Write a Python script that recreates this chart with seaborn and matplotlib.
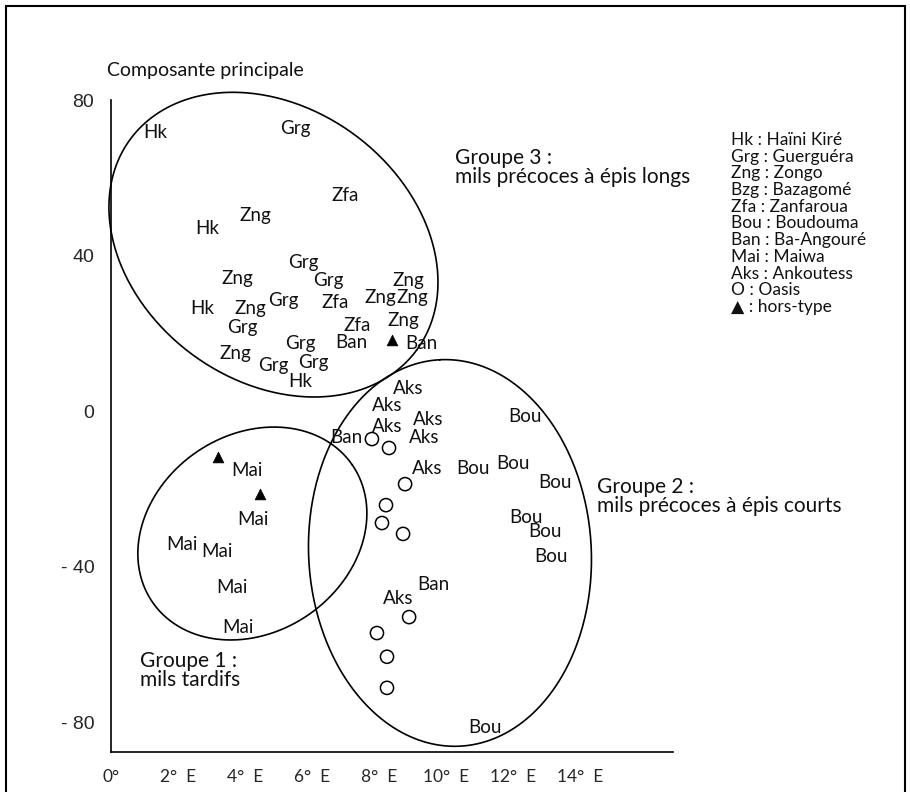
"""
Mils du Niger -- groupes de populations sur la composante principale
"""
import numpy as np
import pandas as pd
import matplotlib
matplotlib.use("Agg")
import matplotlib.pyplot as plt
import seaborn as sns
from matplotlib.patches import Rectangle


# ================================================================================
# Data
# ================================================================================
# Population codes (text marks) with longitude (deg E) and principal component
codes = [
    "Hk", "Grg", "Zfa", "Zng", "Hk", "Grg", "Zng", "Grg", "Zng", "Hk",
    "Zng", "Grg", "Zfa", "Zng", "Zng", "Grg", "Zfa", "Zng", "Zng", "Grg",
    "Ban", "Ban", "Grg", "Grg", "Hk",
    "Aks", "Aks", "Aks", "Aks", "Aks", "Ban", "Aks", "Bou", "Bou", "Bou",
    "Bou", "Bou", "Bou", "Bou", "Ban", "Aks", "Bou",
    "Mai", "Mai", "Mai", "Mai", "Mai", "Mai",
]
code_x = [
    1.31, 5.49, 6.99, 4.30, 2.87, 5.73, 3.76, 6.48, 8.87, 2.72,
    4.15, 5.13, 6.69, 8.03, 9.01, 3.91, 7.34, 8.72, 3.70, 5.64,
    7.19, 9.28, 6.03, 4.84, 5.64,
    8.87, 8.24, 9.46, 8.24, 9.34, 7.04, 9.43, 10.81, 12.00, 12.36,
    13.25, 12.39, 12.96, 13.13, 9.61, 8.57, 11.16,
    4.06, 4.24, 2.12, 3.16, 3.61, 3.79,
]
code_y = [
    71.7, 72.7, 55.5, 50.4, 47.0, 38.3, 34.2, 33.7, 33.7, 26.5,
    26.5, 28.5, 28.0, 29.3, 29.3, 21.6, 22.1, 23.4, 14.9, 17.5,
    17.7, 17.5, 12.6, 11.8, 7.5,
    5.7, 1.3, -2.1, -3.9, -6.9, -6.7, -14.7, -14.9, -13.4, -1.5,
    -18.5, -27.5, -31.1, -37.5, -44.5, -48.3, -81.5,
    -15.2, -27.8, -34.4, -36.2, -45.5, -55.8,
]

# Oasis populations (open circles)
oasis_x = [7.79, 8.30, 8.78, 8.21, 8.09, 8.72, 8.90, 7.94, 8.24, 8.24]
oasis_y = [-7.2, -9.5, -18.8, -24.2, -28.8, -31.6, -53.0, -57.1, -63.2, -71.2]

# Off-type populations (filled triangles)
offtype_x = [3.19, 4.45, 8.39]
offtype_y = [-11.8, -21.3, 18.3]

# Groups: ellipse centre, semi-axes (in degrees of longitude) and tilt
group_labels = ["Groupe 1 :\nmils tardifs",
                "Groupe 2 :\nmils précoces à épis courts",
                "Groupe 3 :\nmils précoces à épis longs"]
group_cx     = [4.22, 10.12, 4.85]
group_cy     = [-31.5, -36.5, 42.8]
group_a      = [3.62, 5.78, 5.31]
group_b      = [2.95, 4.22, 4.08]
group_angle  = [34.5, 93.0, -36.4]
group_lab_x  = [0.87, 14.50, 10.27]
group_lab_y  = [-66.8, -21.9, 62.7]

# Axis ticks
x_ticks       = [0, 2, 4, 6, 8, 10, 12, 14]
x_tick_labels = ["0°", "2°  E", "4°  E", "6°  E", "8°  E", "10°  E", "12°  E", "14°  E"]
y_ticks       = [80, 40, 0, -40, -80]
y_tick_labels = ["80", "40", "0", "- 40", "- 80"]

legend_lines = [
    "Hk : Haïni Kiré", "Grg : Guerguéra", "Zng : Zongo", "Bzg : Bazagomé",
    "Zfa : Zanfaroua", "Bou : Boudouma", "Ban : Ba-Angouré", "Mai : Maiwa",
    "Aks : Ankoutess", "O : Oasis", "▲ : hors-type",
]

# y units per degree of longitude on screen (keeps ellipses round-ish)
ASPECT = 8.61


# ================================================================================
# Figure
# ================================================================================
sns.set_style("white")
plt.rcParams["font.family"] = ["Lato", "DejaVu Sans"]

fig = plt.figure(figsize=(9.10, 7.92), dpi=100)
ax  = fig.add_axes([0.1220, 0.0505, 0.6176, 0.8232])

# Open circles and triangles
oasis_df   = pd.DataFrame({"x": oasis_x,   "y": oasis_y})
offtype_df = pd.DataFrame({"x": offtype_x, "y": offtype_y})
sns.scatterplot(data=oasis_df, x="x", y="y", ax=ax, marker="o", s=90,
                facecolor="none", edgecolor="black", linewidth=1.1, clip_on=False)
sns.scatterplot(data=offtype_df, x="x", y="y", ax=ax, marker="^", s=60,
                color="black", edgecolor="black", linewidth=0.5, clip_on=False)

# Population codes as text marks
for c, x, y in zip(codes, code_x, code_y):
    ax.text(x, y, c, ha="center", va="center", fontsize=13.5, color="#111111")

# Group ellipses
t = np.linspace(0, 2 * np.pi, 400)
for cx, cy, a, b, ang in zip(group_cx, group_cy, group_a, group_b, group_angle):
    th = np.deg2rad(ang)
    u, v = a * np.cos(t), b * np.sin(t)
    ex = cx + u * np.cos(th) - v * np.sin(th)
    ey = cy + (u * np.sin(th) + v * np.cos(th)) * ASPECT
    ax.plot(ex, ey, color="black", lw=1.2, clip_on=False)

for lab, x, y in zip(group_labels, group_lab_x, group_lab_y):
    ax.text(x, y, lab, ha="left", va="center", fontsize=15,
            linespacing=0.95, color="#111111")

# Axes styling
ax.set_xlim(0, 16.78)
ax.set_ylim(-87.7, 80)
sns.despine(ax=ax)
for side in ["left", "bottom"]:
    ax.spines[side].set_linewidth(1.2)
    ax.spines[side].set_color("black")

ax.set_xticks(x_ticks, x_tick_labels, fontsize=12.5)
ax.set_yticks(y_ticks, y_tick_labels, fontsize=14, family="Liberation Sans")
ax.tick_params(axis="x", direction="inout", length=8, width=1.0, pad=8)
ax.tick_params(axis="y", direction="in", length=8, width=1.0, pad=12)
ax.set_xlabel("")
ax.set_ylabel("")

ax.text(-0.12, 87.7, "Composante principale", ha="left", va="center",
        fontsize=14, color="#111111")

# Legend of codes, one line each
for i, line in enumerate(legend_lines):
    fig.text(731 / 910, 1 - (140 + i * 16.7) / 792, line, ha="left", va="center",
             fontsize=12.5, color="#111111", family=["Lato", "DejaVu Sans"])

# Outer frame
fig.add_artist(Rectangle((6 / 910, -0.05), 899 / 910, 1.05 - 6 / 792,
                         transform=fig.transFigure, fill=False,
                         edgecolor="black", lw=1.5))

fig.savefig("out.png", dpi=100)
